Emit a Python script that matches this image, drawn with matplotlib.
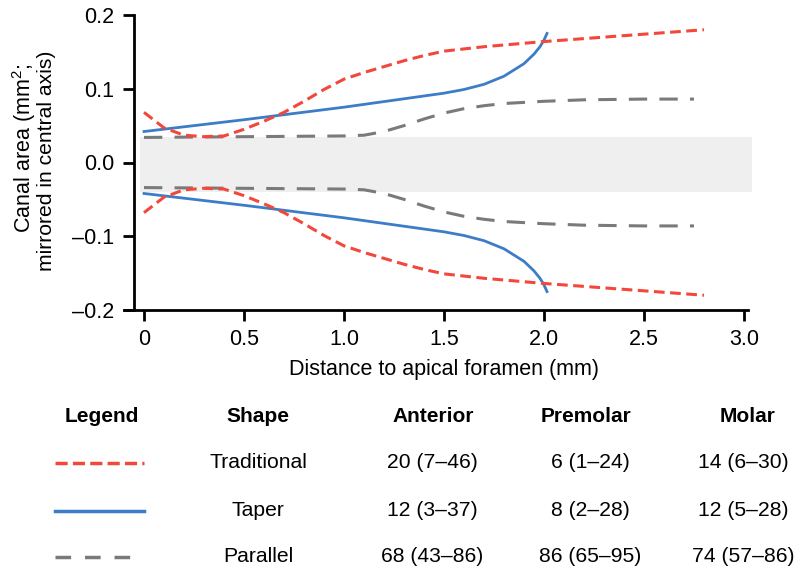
import matplotlib
matplotlib.use("Agg")
import matplotlib.pyplot as plt
from matplotlib.lines import Line2D
import numpy as np

plt.rcParams['font.family'] = ['Liberation Sans', 'DejaVu Sans']
plt.rcParams['mathtext.fontset'] = 'custom'
plt.rcParams['mathtext.rm'] = 'Liberation Sans'
plt.rcParams['mathtext.it'] = 'Liberation Sans:italic'
plt.rcParams['mathtext.bf'] = 'Liberation Sans:bold'

# ---- data (upper half; lower half mirrored) ----
trad_x = [0, 0.1, 0.2, 0.3, 0.4, 0.5, 0.6, 0.7, 0.8, 0.9, 1.0, 1.1, 1.2, 1.3, 1.4, 1.5, 1.7, 2.0, 2.3, 2.6, 2.8]
trad_y = [0.068, 0.047, 0.037, 0.035, 0.036, 0.045, 0.056, 0.068, 0.083, 0.099, 0.113, 0.122, 0.130, 0.138, 0.145, 0.151, 0.157, 0.164, 0.170, 0.176, 0.180]

taper_x = [0, 0.5, 1.0, 1.5, 1.6, 1.7, 1.8, 1.9, 1.95, 1.98, 2.0, 2.015]
taper_y = [0.042, 0.058, 0.075, 0.094, 0.099, 0.106, 0.117, 0.134, 0.147, 0.157, 0.166, 0.175]

par_x = [0, 0.5, 1.0, 1.1, 1.2, 1.3, 1.4, 1.5, 1.6, 1.7, 1.8, 2.0, 2.2, 2.5, 2.75]
par_y = [0.034, 0.035, 0.036, 0.037, 0.042, 0.050, 0.059, 0.067, 0.073, 0.077, 0.080, 0.083, 0.085, 0.086, 0.086]

band = [-0.040, 0.034]

xticks = [0, 0.5, 1.0, 1.5, 2.0, 2.5, 3.0]
xtick_labels = ["0", "0.5", "1.0", "1.5", "2.0", "2.5", "3.0"]
yticks = [-0.2, -0.1, 0.0, 0.1, 0.2]
ytick_labels = ["\u20130.2", "\u20130.1", "0.0", "0.1", "0.2"]

headers = ["Legend", "Shape", "Anterior", "Premolar", "Molar"]
shapes = ["Traditional", "Taper", "Parallel"]
anterior = ["20 (7\u201346)", "12 (3\u201337)", "68 (43\u201386)"]
premolar = ["6 (1\u201324)", "8 (2\u201328)", "86 (65\u201395)"]
molar = ["14 (6\u201330)", "12 (5\u201328)", "74 (57\u201386)"]

RED = "#f2473a"
BLUE = "#3d7cc6"
GRAY = "#7a7a7a"

W, H = 796, 572
fig = plt.figure(figsize=(W / 100, H / 100), dpi=100)

# axes: x=-0.05 at px 134, x=3.05 at px 754 ; y=-0.2 at px 310, 0.2 at px 15
ax = fig.add_axes([134 / W, (H - 310) / H, 620 / W, 295 / H])
ax.set_xlim(-0.05, 3.05)
ax.set_ylim(-0.2, 0.2)

ax.fill_between([-0.02, 3.04], band[0], band[1], color="#efefef", lw=0, zorder=0)

red_style = dict(color=RED, lw=2.2, dashes=(3.5, 1.8))
gray_style = dict(color=GRAY, lw=2.2, dashes=(6, 4))
blue_style = dict(color=BLUE, lw=2.0)

ax.plot(par_x, par_y, **gray_style)
ax.plot(par_x, -np.array(par_y), **gray_style)
ax.plot(taper_x, taper_y, **blue_style)
ax.plot(taper_x, -np.array(taper_y), **blue_style)
ax.plot(trad_x, trad_y, **red_style)
ax.plot(trad_x, -np.array(trad_y), **red_style)

for s in ["top", "right"]:
    ax.spines[s].set_visible(False)
ax.spines["left"].set_bounds(-0.2, 0.2)
ax.spines["bottom"].set_bounds(-0.1, 3.02)
for s in ["left", "bottom"]:
    ax.spines[s].set_linewidth(2.0)

ax.set_xticks(xticks)
ax.set_xticklabels(xtick_labels)
ax.set_yticks(yticks)
ax.set_yticklabels(ytick_labels)
ax.tick_params(axis="both", direction="out", length=8, width=2.0, labelsize=15.5, pad=6)

ax.set_xlabel("Distance to apical foramen (mm)", fontsize=15.5, labelpad=6)

fig.text(24 / W, 1 - 148 / H, "Canal area (mm$^{2}$;", rotation=90, ha="center", va="center", fontsize=15.5)
fig.text(47 / W, 1 - 161 / H, "mirrored in central axis)", rotation=90, ha="center", va="center", fontsize=15.2)

# ---- table ----
head_x = [102, 258, 433, 586, 748]
val_x = [258, 432, 590, 743]
row_y = [416, 463, 511, 557]
for cx, h in zip(head_x, headers):
    fig.text(cx / W, 1 - row_y[0] / H, h, ha="center", va="center", fontsize=15, fontweight="bold")
for i in range(3):
    y = 1 - row_y[i + 1] / H
    for cx, txt in zip(val_x, [shapes[i], anterior[i], premolar[i], molar[i]]):
        fig.text(cx / W, y, txt, ha="center", va="center", fontsize=15.2)

styles = [dict(color=RED, lw=2.5, dashes=(3.5, 1.5)),
          dict(color=BLUE, lw=2.5),
          dict(color=GRAY, lw=2.5, dashes=(4.5, 4.0))]
ends = [144, 144, 132]
for i in range(3):
    y = 1 - row_y[i + 1] / H
    fig.add_artist(Line2D([55 / W, ends[i] / W], [y, y], transform=fig.transFigure, **styles[i]))

fig.savefig("out.png", dpi=100)
